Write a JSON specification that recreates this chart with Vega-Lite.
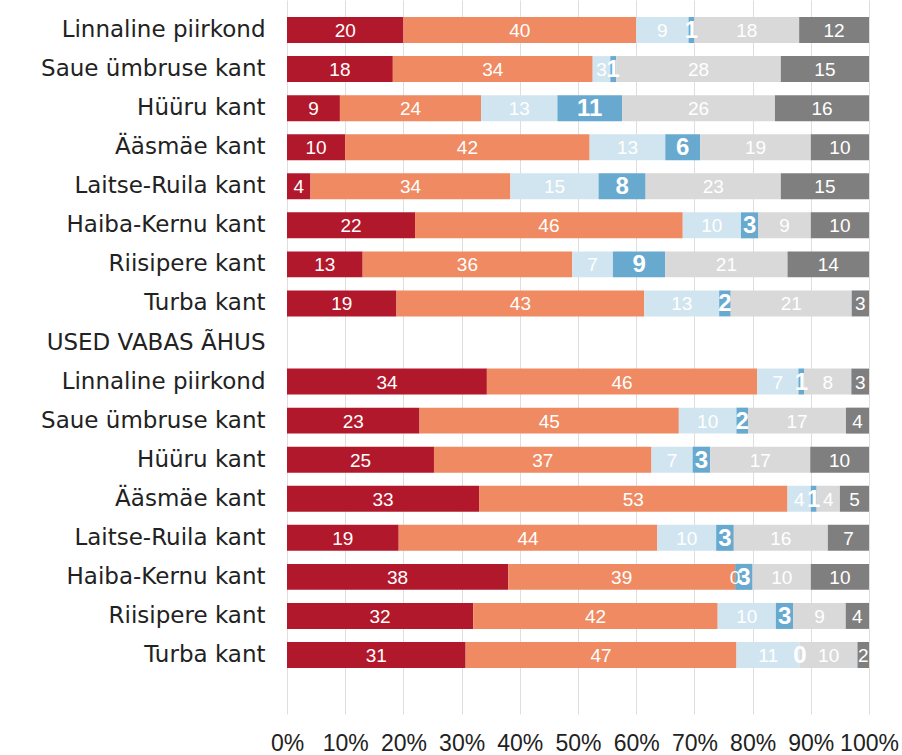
{
  "$schema": "https://vega.github.io/schema/vega-lite/v6.json",
  "autosize": {"type": "none"},
  "padding": {"left": 287, "top": 0, "right": 33, "bottom": 41},
  "width": 582,
  "height": 714,
  "background": "white",
  "config": {"view": {"stroke": null}},
  "data": {"values": [
    {"row": "a1|Linnaline piirkond", "k": 1, "v": 20}, {"row": "a1|Linnaline piirkond", "k": 2, "v": 40}, {"row": "a1|Linnaline piirkond", "k": 3, "v": 9}, {"row": "a1|Linnaline piirkond", "k": 4, "v": 1}, {"row": "a1|Linnaline piirkond", "k": 5, "v": 18}, {"row": "a1|Linnaline piirkond", "k": 6, "v": 12},
    {"row": "a2|Saue ümbruse kant", "k": 1, "v": 18}, {"row": "a2|Saue ümbruse kant", "k": 2, "v": 34}, {"row": "a2|Saue ümbruse kant", "k": 3, "v": 3}, {"row": "a2|Saue ümbruse kant", "k": 4, "v": 1}, {"row": "a2|Saue ümbruse kant", "k": 5, "v": 28}, {"row": "a2|Saue ümbruse kant", "k": 6, "v": 15},
    {"row": "a3|Hüüru kant", "k": 1, "v": 9}, {"row": "a3|Hüüru kant", "k": 2, "v": 24}, {"row": "a3|Hüüru kant", "k": 3, "v": 13}, {"row": "a3|Hüüru kant", "k": 4, "v": 11}, {"row": "a3|Hüüru kant", "k": 5, "v": 26}, {"row": "a3|Hüüru kant", "k": 6, "v": 16},
    {"row": "a4|Ääsmäe kant", "k": 1, "v": 10}, {"row": "a4|Ääsmäe kant", "k": 2, "v": 42}, {"row": "a4|Ääsmäe kant", "k": 3, "v": 13}, {"row": "a4|Ääsmäe kant", "k": 4, "v": 6}, {"row": "a4|Ääsmäe kant", "k": 5, "v": 19}, {"row": "a4|Ääsmäe kant", "k": 6, "v": 10},
    {"row": "a5|Laitse-Ruila kant", "k": 1, "v": 4}, {"row": "a5|Laitse-Ruila kant", "k": 2, "v": 34}, {"row": "a5|Laitse-Ruila kant", "k": 3, "v": 15}, {"row": "a5|Laitse-Ruila kant", "k": 4, "v": 8}, {"row": "a5|Laitse-Ruila kant", "k": 5, "v": 23}, {"row": "a5|Laitse-Ruila kant", "k": 6, "v": 15},
    {"row": "a6|Haiba-Kernu kant", "k": 1, "v": 22}, {"row": "a6|Haiba-Kernu kant", "k": 2, "v": 46}, {"row": "a6|Haiba-Kernu kant", "k": 3, "v": 10}, {"row": "a6|Haiba-Kernu kant", "k": 4, "v": 3}, {"row": "a6|Haiba-Kernu kant", "k": 5, "v": 9}, {"row": "a6|Haiba-Kernu kant", "k": 6, "v": 10},
    {"row": "a7|Riisipere kant", "k": 1, "v": 13}, {"row": "a7|Riisipere kant", "k": 2, "v": 36}, {"row": "a7|Riisipere kant", "k": 3, "v": 7}, {"row": "a7|Riisipere kant", "k": 4, "v": 9}, {"row": "a7|Riisipere kant", "k": 5, "v": 21}, {"row": "a7|Riisipere kant", "k": 6, "v": 14},
    {"row": "a8|Turba kant", "k": 1, "v": 19}, {"row": "a8|Turba kant", "k": 2, "v": 43}, {"row": "a8|Turba kant", "k": 3, "v": 13}, {"row": "a8|Turba kant", "k": 4, "v": 2}, {"row": "a8|Turba kant", "k": 5, "v": 21}, {"row": "a8|Turba kant", "k": 6, "v": 3},
    {"row": "b1|Linnaline piirkond", "k": 1, "v": 34}, {"row": "b1|Linnaline piirkond", "k": 2, "v": 46}, {"row": "b1|Linnaline piirkond", "k": 3, "v": 7}, {"row": "b1|Linnaline piirkond", "k": 4, "v": 1}, {"row": "b1|Linnaline piirkond", "k": 5, "v": 8}, {"row": "b1|Linnaline piirkond", "k": 6, "v": 3},
    {"row": "b2|Saue ümbruse kant", "k": 1, "v": 23}, {"row": "b2|Saue ümbruse kant", "k": 2, "v": 45}, {"row": "b2|Saue ümbruse kant", "k": 3, "v": 10}, {"row": "b2|Saue ümbruse kant", "k": 4, "v": 2}, {"row": "b2|Saue ümbruse kant", "k": 5, "v": 17}, {"row": "b2|Saue ümbruse kant", "k": 6, "v": 4},
    {"row": "b3|Hüüru kant", "k": 1, "v": 25}, {"row": "b3|Hüüru kant", "k": 2, "v": 37}, {"row": "b3|Hüüru kant", "k": 3, "v": 7}, {"row": "b3|Hüüru kant", "k": 4, "v": 3}, {"row": "b3|Hüüru kant", "k": 5, "v": 17}, {"row": "b3|Hüüru kant", "k": 6, "v": 10},
    {"row": "b4|Ääsmäe kant", "k": 1, "v": 33}, {"row": "b4|Ääsmäe kant", "k": 2, "v": 53}, {"row": "b4|Ääsmäe kant", "k": 3, "v": 4}, {"row": "b4|Ääsmäe kant", "k": 4, "v": 1}, {"row": "b4|Ääsmäe kant", "k": 5, "v": 4}, {"row": "b4|Ääsmäe kant", "k": 6, "v": 5},
    {"row": "b5|Laitse-Ruila kant", "k": 1, "v": 19}, {"row": "b5|Laitse-Ruila kant", "k": 2, "v": 44}, {"row": "b5|Laitse-Ruila kant", "k": 3, "v": 10}, {"row": "b5|Laitse-Ruila kant", "k": 4, "v": 3}, {"row": "b5|Laitse-Ruila kant", "k": 5, "v": 16}, {"row": "b5|Laitse-Ruila kant", "k": 6, "v": 7},
    {"row": "b6|Haiba-Kernu kant", "k": 1, "v": 38}, {"row": "b6|Haiba-Kernu kant", "k": 2, "v": 39}, {"row": "b6|Haiba-Kernu kant", "k": 3, "v": 0}, {"row": "b6|Haiba-Kernu kant", "k": 4, "v": 3}, {"row": "b6|Haiba-Kernu kant", "k": 5, "v": 10}, {"row": "b6|Haiba-Kernu kant", "k": 6, "v": 10},
    {"row": "b7|Riisipere kant", "k": 1, "v": 32}, {"row": "b7|Riisipere kant", "k": 2, "v": 42}, {"row": "b7|Riisipere kant", "k": 3, "v": 10}, {"row": "b7|Riisipere kant", "k": 4, "v": 3}, {"row": "b7|Riisipere kant", "k": 5, "v": 9}, {"row": "b7|Riisipere kant", "k": 6, "v": 4},
    {"row": "b8|Turba kant", "k": 1, "v": 31}, {"row": "b8|Turba kant", "k": 2, "v": 47}, {"row": "b8|Turba kant", "k": 3, "v": 11}, {"row": "b8|Turba kant", "k": 4, "v": 0}, {"row": "b8|Turba kant", "k": 5, "v": 10}, {"row": "b8|Turba kant", "k": 6, "v": 2}
  ]},
  "transform": [
    {"stack": "v", "groupby": ["row"], "sort": [{"field": "k", "order": "ascending"}], "offset": "normalize", "as": ["v0", "v1"]},
    {"calculate": "(datum.v0 + datum.v1) / 2", "as": "vm"}
  ],
  "encoding": {
    "y": {
      "field": "row", "type": "nominal", "title": null,
      "scale": {
        "domain": ["a1|Linnaline piirkond", "a2|Saue ümbruse kant", "a3|Hüüru kant", "a4|Ääsmäe kant", "a5|Laitse-Ruila kant", "a6|Haiba-Kernu kant", "a7|Riisipere kant", "a8|Turba kant", "h|USED VABAS ÃHUS", "b1|Linnaline piirkond", "b2|Saue ümbruse kant", "b3|Hüüru kant", "b4|Ääsmäe kant", "b5|Laitse-Ruila kant", "b6|Haiba-Kernu kant", "b7|Riisipere kant", "b8|Turba kant", "z|"],
        "paddingInner": 0.335, "paddingOuter": 0.307, "align": 0.71
      },
      "axis": {
        "labelExpr": "split(datum.value, '|')[1]",
        "ticks": false, "domain": false, "grid": false,
        "labelPadding": 22, "labelFont": "DejaVu Sans", "labelFontSize": 23,
        "labelColor": "#222222", "labelLimit": 600
      }
    }
  },
  "layer": [
    {
      "mark": {"type": "bar"},
      "encoding": {
        "x": {
          "field": "v0", "type": "quantitative", "title": null,
          "scale": {"domain": [0, 1], "nice": false},
          "axis": {
            "values": [0, 0.1, 0.2, 0.3, 0.4, 0.5, 0.6, 0.7, 0.8, 0.9, 1],
            "format": ".0%", "ticks": false, "domain": false,
            "grid": true, "gridColor": "#dedede", "gridWidth": 1,
            "labelFont": "Liberation Sans", "labelFontSize": 23, "labelColor": "#222222",
            "labelPadding": 18, "labelFlush": false, "labelOverlap": false
          }
        },
        "x2": {"field": "v1"},
        "color": {
          "field": "k", "type": "nominal", "legend": null,
          "scale": {"domain": [1, 2, 3, 4, 5, 6], "range": ["#b2182b", "#ef8a62", "#d1e5f0", "#67a9cf", "#d9d9d9", "#7f7f7f"]}
        }
      }
    },
    {
      "transform": [{"filter": "datum.k !== 4"}],
      "mark": {"type": "text", "font": "Liberation Sans", "fontSize": 19, "color": "white", "align": "center", "baseline": "middle", "dy": 1},
      "encoding": {
        "x": {"field": "vm", "type": "quantitative"},
        "text": {"field": "v", "type": "quantitative"}
      }
    },
    {
      "transform": [{"filter": "datum.k === 4"}],
      "mark": {"type": "text", "font": "Liberation Sans", "fontSize": 24, "fontWeight": "bold", "color": "white", "align": "center", "baseline": "middle", "dy": 1},
      "encoding": {
        "x": {"field": "vm", "type": "quantitative"},
        "text": {"field": "v", "type": "quantitative"}
      }
    }
  ]
}
